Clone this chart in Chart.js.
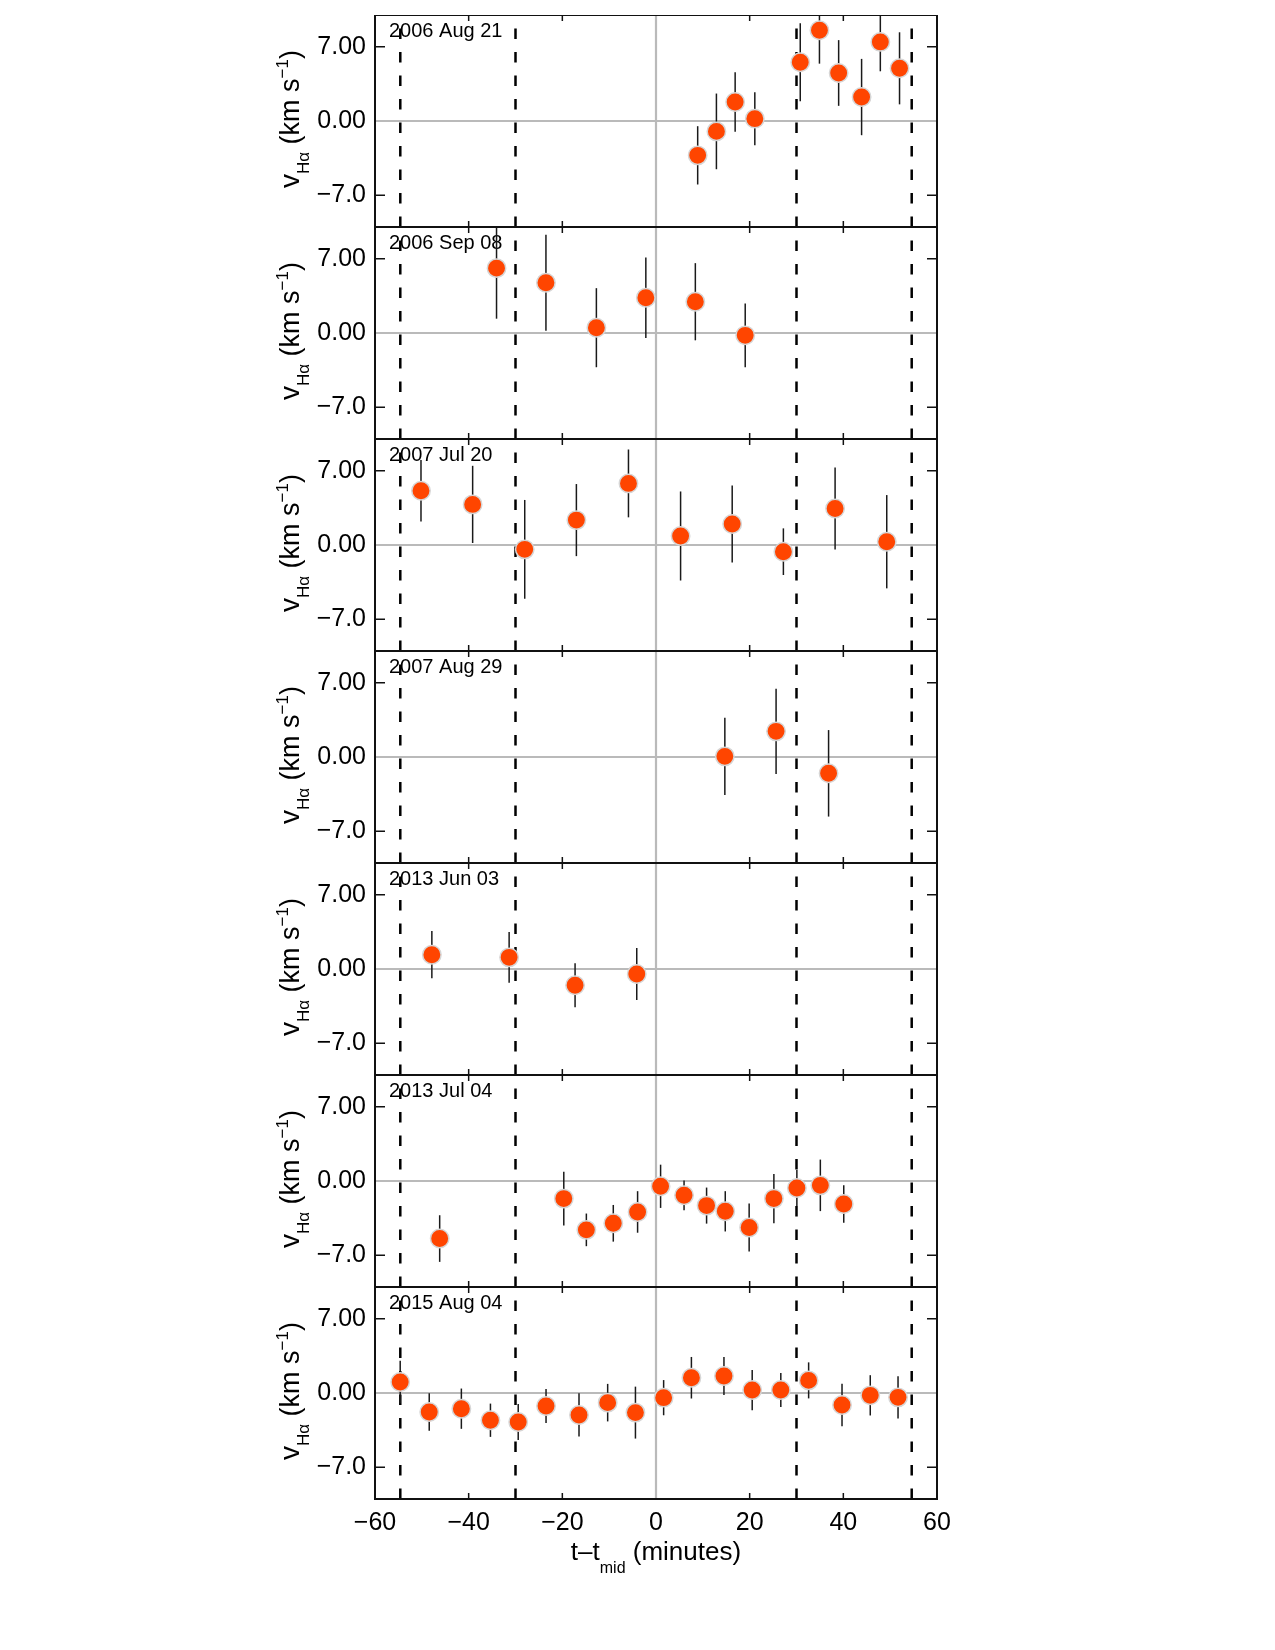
<!DOCTYPE html>
<html>
<head>
<meta charset="utf-8">
<script src="https://cdn.jsdelivr.net/npm/chart.js@4.4.1/dist/chart.umd.min.js"></script>
<style>
  html, body { margin: 0; padding: 0; background: #fff; }
  #wrap { position: relative; width: 1275px; height: 1650px; }
  #wrap canvas { position: absolute; left: 0; }
</style>
</head>
<body>
<div id="wrap"></div>
<script>
const panelDates = ['2006 Aug 21', '2006 Sep 08', '2007 Jul 20', '2007 Aug 29', '2013 Jun 03', '2013 Jul 04', '2015 Aug 04']

// t - t_mid (minutes), v_Halpha (km/s), error (km/s)
const tAug21 = [8.9, 12.9, 16.9, 21.1, 30.8, 34.9, 39.0, 43.9, 47.9, 52.0]
const vAug21 = [-3.24, -0.98, 1.79, 0.22, 5.54, 8.56, 4.53, 2.26, 7.46, 4.97]
const eAug21 = [2.75, 3.57, 2.8, 2.5, 3.67, 3.15, 3.1, 3.6, 2.77, 3.4]

const tSep08 = [-34.05, -23.5, -12.73, -2.17, 8.4, 19.05]
const vSep08 = [6.12, 4.74, 0.5, 3.33, 2.95, -0.22]
const eSep08 = [4.77, 4.53, 3.73, 3.8, 3.64, 3.0]

const tJul20 = [-50.18, -39.15, -28.03, -17.0, -5.88, 5.25, 16.27, 27.2, 38.24, 49.27]
const vJul20 = [5.12, 3.83, -0.41, 2.35, 5.81, 0.85, 1.98, -0.63, 3.45, 0.31]
const eJul20 = [2.9, 3.64, 4.66, 3.4, 3.2, 4.2, 3.64, 2.2, 3.87, 4.4]

const tAug29 = [14.7, 25.64, 36.85]
const vAug29 = [0.06, 2.42, -1.54]
const eAug29 = [3.65, 4.03, 4.08]

const tJun03 = [-47.86, -31.36, -17.28, -4.11]
const vJun03 = [1.35, 1.1, -1.54, -0.47]
const eJun03 = [2.23, 2.4, 2.08, 2.46]

const tJul04 = [-46.19, -19.69, -14.87, -9.12, -3.93, 0.98, 5.99, 10.8, 14.79, 19.89, 25.17, 30.08, 35.09, 40.09]
const vJul04 = [-5.43, -1.66, -4.61, -3.99, -2.92, -0.5, -1.35, -2.32, -2.86, -4.39, -1.66, -0.66, -0.41, -2.17]
const eJul04 = [2.2, 2.54, 1.54, 1.73, 1.96, 2.04, 1.4, 1.7, 1.9, 2.27, 2.33, 1.7, 2.43, 1.77]

const tAug04 = [-54.62, -48.42, -41.56, -35.35, -29.42, -23.48, -16.44, -10.32, -4.39, 1.63, 7.56, 14.51, 20.54, 26.65, 32.59, 39.72, 45.75, 51.68]
const vAug04 = [1.04, -1.79, -1.48, -2.57, -2.73, -1.22, -2.07, -0.91, -1.85, -0.44, 1.44, 1.6, 0.28, 0.28, 1.19, -1.13, -0.22, -0.41]
const eAug04 = [2.0, 1.76, 1.9, 1.57, 1.7, 1.6, 2.04, 1.77, 2.45, 1.66, 1.96, 1.8, 1.9, 1.6, 1.7, 2.0, 1.9, 2.0]

const panelT = [tAug21, tSep08, tJul20, tAug29, tJun03, tJul04, tAug04]
const panelV = [vAug21, vSep08, vJul20, vAug29, vJun03, vJul04, vAug04]
const panelE = [eAug21, eSep08, eJul20, eAug29, eJun03, eJul04, eAug04]

// contact times (dashed lines)
const contactTimes = [-54.6, -30, 30, 54.6]

const xTickValues = [-60, -40, -20, 0, 20, 40, 60]
const xTickLabels = ['\u221260', '\u221240', '\u221220', '0', '20', '40', '60']
const xMinorTicks = [-40, -20, 20, 40]
const yTickValues = [-7, 0, 7]
const yTickLabels = ['\u22127.0', '0.00', '7.00']
const yMarkTicks = [-7, 7]

const FONT = "'Liberation Sans', Arial, Helvetica, sans-serif"
const PANEL_H = 212
const PANEL_TOP = 15
const PLOT_LEFT = 375
const PLOT_RIGHT = 937
const BOTTOM_EXTRA = 151

// texto con sub/superindices: parts = [texto, tamaño, desplazamiento]
function richWidth(ctx, parts) {
    let w = 0
    parts.forEach(p => { ctx.font = p[1] + 'px ' + FONT; w += ctx.measureText(p[0]).width })
    return w
}
function drawRich(ctx, parts, x, y) {
    parts.forEach(p => {
        ctx.font = p[1] + 'px ' + FONT
        ctx.fillText(p[0], x, y + p[2])
        x += ctx.measureText(p[0]).width
    })
}

const yTitle = [['v', 28, 0], ['H\u03b1', 17, 10], [' (km s', 27, 0], ['\u22121', 17, -11], [')', 27, 0]]
const xTitle = [['t\u2013t', 26, 0], ['mid', 16, 13], [' (minutes)', 26, 0]]

function makeDeco(label, errs, isBottom) {
    return {
        id: 'deco',
        beforeDatasetsDraw(chart) {
            const {ctx, chartArea: a} = chart
            const sx = chart.scales.x, sy = chart.scales.y
            ctx.save()
            ctx.beginPath()
            ctx.rect(a.left, a.top, a.right - a.left, a.bottom - a.top)
            ctx.clip()

            // lineas grises en cero
            ctx.strokeStyle = '#bababa'
            ctx.lineWidth = 2.2
            ctx.beginPath()
            const x0 = sx.getPixelForValue(0), y0 = sy.getPixelForValue(0)
            ctx.moveTo(x0, a.top); ctx.lineTo(x0, a.bottom)
            ctx.moveTo(a.left, y0); ctx.lineTo(a.right, y0)
            ctx.stroke()

            // etiqueta de fecha
            ctx.fillStyle = '#000'
            ctx.font = '20px ' + FONT
            ctx.textBaseline = 'alphabetic'
            ctx.fillText(label, a.left + 14, a.top + 22)

            // lineas de contacto
            ctx.strokeStyle = '#000'
            ctx.lineWidth = 2.5
            ctx.setLineDash([10.5, 13])
            contactTimes.forEach(t => {
                const px = sx.getPixelForValue(t)
                ctx.beginPath()
                ctx.moveTo(px, sy.getPixelForValue(sy.min))
                ctx.lineTo(px, sy.getPixelForValue(sy.max))
                ctx.stroke()
            })
            ctx.setLineDash([])

            // barras de error
            ctx.strokeStyle = '#1a1a1a'
            ctx.lineWidth = 1.5
            chart.data.datasets[0].data.forEach((d, i) => {
                const px = sx.getPixelForValue(d.x)
                ctx.beginPath()
                ctx.moveTo(px, sy.getPixelForValue(d.y - errs[i]))
                ctx.lineTo(px, sy.getPixelForValue(d.y + errs[i]))
                ctx.stroke()
            })
            ctx.restore()
        },
        afterDraw(chart) {
            const {ctx, chartArea: a} = chart
            const sx = chart.scales.x, sy = chart.scales.y
            ctx.save()
            ctx.strokeStyle = '#111'
            ctx.lineWidth = 1.5
            // ticks hacia dentro
            ctx.beginPath()
            xMinorTicks.forEach(t => {
                const px = sx.getPixelForValue(t)
                ctx.moveTo(px, a.top); ctx.lineTo(px, a.top + 6)
                ctx.moveTo(px, a.bottom); ctx.lineTo(px, a.bottom - 6)
            })
            yMarkTicks.forEach(v => {
                const py = sy.getPixelForValue(v)
                ctx.moveTo(a.left, py); ctx.lineTo(a.left + 10, py)
                ctx.moveTo(a.right, py); ctx.lineTo(a.right - 10, py)
            })
            ctx.stroke()
            // marco
            ctx.lineWidth = 2
            ctx.strokeRect(a.left, a.top, a.right - a.left, a.bottom - a.top)

            // titulo eje y
            ctx.fillStyle = '#000'
            ctx.textBaseline = 'alphabetic'
            ctx.translate(299, (a.top + a.bottom) / 2 - 2)
            ctx.rotate(-Math.PI / 2)
            drawRich(ctx, yTitle, -richWidth(ctx, yTitle) / 2, 0)
            ctx.setTransform(1, 0, 0, 1, 0, 0)

            if (isBottom) {
                const w = richWidth(ctx, xTitle)
                drawRich(ctx, xTitle, (a.left + a.right) / 2 - w / 2, a.bottom + 61)
            }
            ctx.restore()
        }
    }
}

function graficoPanel(i) {
    const isBottom = i === panelDates.length - 1
    const canvas = document.createElement('canvas')
    canvas.width = 1275
    canvas.height = PANEL_H + (isBottom ? BOTTOM_EXTRA : 0)
    canvas.style.top = (PANEL_TOP + i * PANEL_H) + 'px'
    canvas.style.width = canvas.width + 'px'
    canvas.style.height = canvas.height + 'px'
    document.getElementById('wrap').appendChild(canvas)

    const data = {
        datasets: [{
            data: panelT[i].map((t, k) => ({x: t, y: panelV[i][k]})),
            pointRadius: 9.2,
            pointHoverRadius: 9.2,
            pointBackgroundColor: '#ff4500',
            pointBorderColor: '#d6d6d6',
            pointBorderWidth: 1.5,
            showLine: false
        }]
    }

    const options = {
        responsive: false,
        animation: false,
        devicePixelRatio: 1,
        layout: {autoPadding: false, padding: {left: 0, right: 1275 - PLOT_RIGHT, top: 0, bottom: 0}},
        plugins: {legend: {display: false}, tooltip: {enabled: false}},
        events: [],
        scales: {
            x: {
                type: 'linear',
                min: -60, max: 60,
                display: isBottom,
                grid: {display: false, drawTicks: false},
                border: {display: false},
                afterBuildTicks: s => { s.ticks = xTickValues.map(v => ({value: v})) },
                afterFit: s => {
                    s.height = isBottom ? BOTTOM_EXTRA : 0
                    s.paddingLeft = 0; s.paddingRight = 0
                },
                ticks: {
                    autoSkip: false, maxRotation: 0, padding: 9,
                    color: '#000',
                    font: {family: FONT, size: 25},
                    callback: (v, idx) => xTickLabels[idx]
                }
            },
            y: {
                type: 'linear',
                position: 'left',
                min: -10, max: 10,
                grid: {display: false, drawTicks: false},
                border: {display: false},
                afterBuildTicks: s => { s.ticks = yTickValues.map(v => ({value: v})) },
                afterFit: s => {
                    s.width = PLOT_LEFT
                    s.paddingTop = 0; s.paddingBottom = 0
                },
                ticks: {
                    autoSkip: false, padding: 9,
                    color: '#000',
                    font: {family: FONT, size: 25},
                    callback: (v, idx) => yTickLabels[idx]
                }
            }
        }
    }

    new Chart(canvas.getContext('2d'), {type: 'scatter', data, options, plugins: [makeDeco(panelDates[i], panelE[i], isBottom)]})
}

panelDates.forEach((d, i) => graficoPanel(i))
</script>
</body>
</html>
